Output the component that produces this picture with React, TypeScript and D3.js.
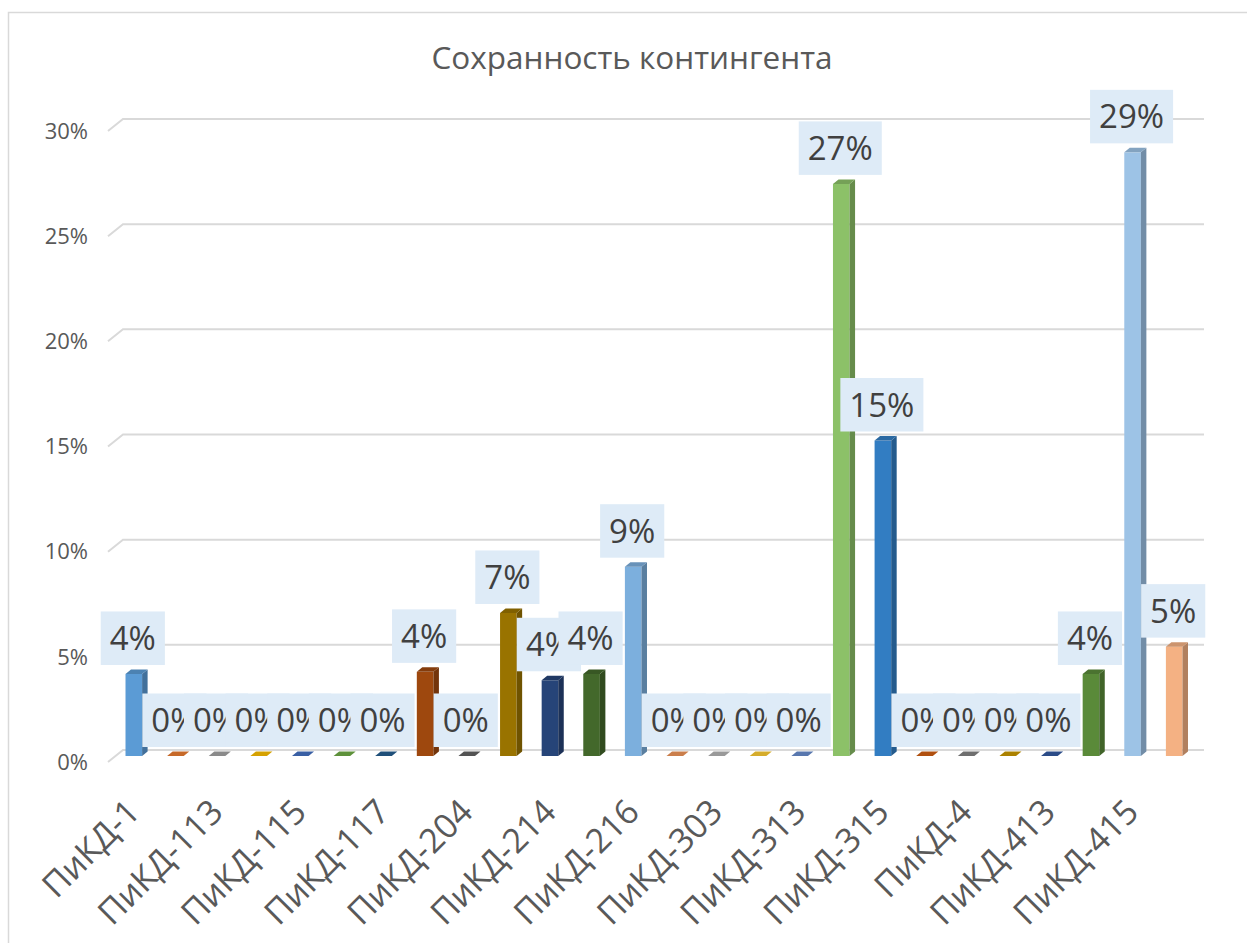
import React, { useRef, useEffect } from "react";
import * as d3 from "d3";

// categories (only every other one gets a tick label, like in Excel)
const categories = [
  "ПиКД-1", "ПиКД-111", "ПиКД-113", "ПиКД-114", "ПиКД-115", "ПиКД-116",
  "ПиКД-117", "ПиКД-2", "ПиКД-204", "ПиКД-213", "ПиКД-214", "ПиКД-215",
  "ПиКД-216", "ПиКД-3", "ПиКД-303", "ПиКД-311", "ПиКД-313", "ПиКД-314",
  "ПиКД-315", "ПиКД-316", "ПиКД-4", "ПиКД-411", "ПиКД-413", "ПиКД-414",
  "ПиКД-415", "ПиКД-416",
];

const values = [
  0.039, 0, 0, 0, 0, 0,
  0, 0.04, 0, 0.068, 0.036, 0.039,
  0.09, 0, 0, 0, 0, 0.272,
  0.15, 0, 0, 0, 0, 0.039,
  0.287, 0.052,
];

const colors = [
  "#5B9BD5", "#ED7D31", "#A5A5A5", "#FFC000", "#4472C4", "#70AD47",
  "#255E91", "#9E480E", "#636363", "#997300", "#264478", "#43682B",
  "#7CAFDD", "#F1975A", "#B7B7B7", "#FFCD33", "#698ED0", "#8CC168",
  "#327DC2", "#D26012", "#848484", "#CC9A00", "#335AA1", "#5A8A39",
  "#9DC3E6", "#F4B183",
];

const tickValues = [0, 0.05, 0.1, 0.15, 0.2, 0.25, 0.3];
const title = "Сохранность контингента";

const FONT = "'Open Sans', 'Noto Sans', sans-serif";

const SohrannostChart = () => {
  const svgRef = useRef<SVGSVGElement>(null);

  useEffect(() => {
    const svg = d3.select(svgRef.current);
    svg.selectAll("*").remove();

    const fmt = d3.format(".0%");

    const x = d3.scaleBand().domain(categories).range([113, 1195]).padding(0);
    const cx = (c: string) => (x(c) as number) + x.bandwidth() / 2;

    // back wall scale, bars stand a little in front of it
    const yBack = d3.scaleLinear().domain([0, 0.3]).range([750, 119]);
    const yFront = (v: number) => yBack(v) + 6;

    // chart frame
    svg
      .append("rect")
      .attr("x", 8.5)
      .attr("y", 12.5)
      .attr("width", 1300)
      .attr("height", 1000)
      .attr("fill", "white")
      .attr("stroke", "#d9d9d9")
      .attr("stroke-width", 1.5);

    svg
      .append("text")
      .attr("x", 632)
      .attr("y", 69)
      .attr("text-anchor", "middle")
      .style("font-family", FONT)
      .style("font-size", "31.5px")
      .attr("fill", "#595959")
      .text(title);

    // gridlines with the little 3d floor step on the left
    const grid = svg.append("g");
    tickValues.forEach((t) => {
      const y = yBack(t);
      grid
        .append("path")
        .attr("d", `M108,${y + 12}L123,${y}L1204,${y}`)
        .attr("fill", "none")
        .attr("stroke", "#d9d9d9")
        .attr("stroke-width", 2);
      grid
        .append("text")
        .attr("x", 88)
        .attr("y", y + 12)
        .attr("dy", "0.35em")
        .attr("text-anchor", "end")
        .style("font-family", FONT)
        .style("font-size", "22px")
        .attr("fill", "#595959")
        .text(fmt(t));
    });

    // 3d columns
    const w = 16.6,
      dx = 5.5,
      dy = 4.5;
    const y0 = yFront(0);
    const bars = svg.append("g");
    categories.forEach((c, i) => {
      const v = values[i];
      const col = colors[i];
      const left = cx(c) - w / 2;
      const right = cx(c) + w / 2;
      const yt = yFront(v);
      const g = bars.append("g");
      if (v > 0) {
        g.append("rect")
          .attr("x", left)
          .attr("y", yt)
          .attr("width", w)
          .attr("height", y0 - yt)
          .attr("fill", col);
        g.append("path")
          .attr(
            "d",
            `M${right},${yt}L${right + dx},${yt - dy}L${right + dx},${y0 - dy}L${right},${y0}Z`
          )
          .attr("fill", d3.color(col)!.darker(0.9).formatHex());
      }
      g.append("path")
        .attr(
          "d",
          `M${left},${yt}L${left + dx},${yt - dy}L${right + dx},${yt - dy}L${right},${yt}Z`
        )
        .attr("fill", d3.color(col)!.darker(0.5).formatHex());
    });

    // data labels, drawn in order so later boxes cover earlier ones
    const labels = svg.append("g");
    categories.forEach((c, i) => {
      const v = values[i];
      const bottom = yFront(v) - 9;
      const h = 53.5;
      const g = labels.append("g");
      const rect = g.append("rect").attr("fill", "#DEEBF7");
      const txt = g
        .append("text")
        .attr("x", cx(c) - 1)
        .attr("y", bottom - h / 2)
        .attr("dy", "0.36em")
        .attr("text-anchor", "middle")
        .style("font-family", FONT)
        .style("font-size", "33px")
        .attr("fill", "#404040")
        .text(fmt(v));
      const tw = (txt.node() as SVGTextElement).getComputedTextLength();
      const bw = tw + 18;
      rect
        .attr("x", cx(c) - 1 - bw / 2)
        .attr("y", bottom - h)
        .attr("width", bw)
        .attr("height", h);
    });

    // rotated category labels
    const axis = svg.append("g");
    categories.forEach((c, i) => {
      if (i % 2 !== 0) return;
      const ax = cx(c) + 8;
      const ay = 814;
      axis
        .append("text")
        .attr("transform", `translate(${ax},${ay}) rotate(-45)`)
        .attr("text-anchor", "end")
        .style("font-family", FONT)
        .style("font-size", "34px")
        .attr("fill", "#595959")
        .text(c);
    });
  }, []);

  return (
    <svg
      ref={svgRef}
      width={1247}
      height={943}
      style={{ position: "absolute", left: 0, top: 0, background: "white" }}
    ></svg>
  );
};

export default function App() {
  return <SohrannostChart />;
}
